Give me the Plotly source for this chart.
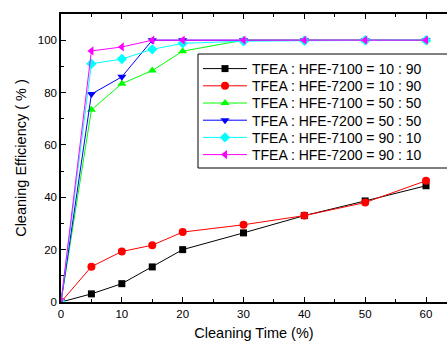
import plotly.graph_objects as go

time = [0, 5, 10, 15, 20, 30, 40, 50, 60]
names = [
    "TFEA : HFE-7100 = 10 : 90",
    "TFEA : HFE-7200 = 10 : 90",
    "TFEA : HFE-7100 = 50 : 50",
    "TFEA : HFE-7200 = 50 : 50",
    "TFEA : HFE-7100 = 90 : 10",
    "TFEA : HFE-7200 = 90 : 10",
]
s_7100_10 = [0, 3.1, 7.0, 13.4, 20.0, 26.4, 33.0, 38.6, 44.4]
s_7200_10 = [0, 13.5, 19.3, 21.7, 26.7, 29.5, 33.0, 38.0, 46.3]
s_7100_50 = [0, 73.4, 83.4, 88.4, 95.8, 100, 100, 100, 100]
s_7200_50 = [0, 79.4, 86.0, 100, 100, 100, 100, 100, 100]
s_7100_90 = [0, 91.0, 92.8, 96.5, 98.8, 99.6, 99.8, 100, 100]
s_7200_90 = [0, 95.9, 97.4, 100, 100, 100, 100, 100, 100]

series = [s_7100_10, s_7200_10, s_7100_50, s_7200_50, s_7100_90, s_7200_90]
colors = ["#000000", "#FF0000", "#00FF00", "#0000FF", "#00FFFF", "#FF00FF"]
symbols = ["square", "circle", "triangle-up", "triangle-down", "diamond", "triangle-left"]
sizes = [7, 8, 8, 8, 8, 8]

FONT = "Liberation Sans, Arial, sans-serif"
L, T, B = 61, 14, 39
W, H = 447, 341
PW, PH = W - L, H - T - B

fig = go.Figure()
legend_layouts = {}
for i, (n, s, c, m, sz) in enumerate(zip(names, series, colors, symbols, sizes)):
    lg = "legend" if i == 0 else f"legend{i + 1}"
    fig.add_trace(go.Scatter(
        x=time, y=s, name=n, mode="lines+markers",
        line=dict(color=c, width=1),
        marker=dict(symbol=m, color=c, size=sz, line=dict(width=0)),
        legend=lg,
    ))
    row_y = 69 + 17.2 * i
    legend_layouts[lg] = dict(
        x=(198 - L) / PW, y=(H - B - row_y) / PH, xanchor="left", yanchor="middle",
        borderwidth=0, bgcolor="rgba(0,0,0,0)",
        font=dict(size=14, family=FONT, color="#000000"),
        itemwidth=44,
    )

# legend frame
fig.add_shape(
    type="rect", xref="paper", yref="paper", layer="above",
    x0=(198 - L) / PW, x1=1.2, y0=(H - B - 168) / PH, y1=(H - B - 54) / PH,
    line=dict(color="#000000", width=1), fillcolor="white",
)

axis_font = dict(family=FONT, size=11.5, color="#000000")
fig.update_layout(
    width=W, height=H,
    margin=dict(l=L, r=0, t=T, b=B),
    paper_bgcolor="white", plot_bgcolor="white",
    font=dict(family=FONT, color="#000000"),
    showlegend=True,
    **legend_layouts,
    xaxis=dict(
        range=[0, 63.45], tickmode="array", tickvals=[0, 10, 20, 30, 40, 50, 60],
        ticks="inside", ticklen=5, tickwidth=1, tickcolor="#000000",
        minor=dict(tickvals=[5, 15, 25, 35, 45, 55], ticks="inside", ticklen=3, tickcolor="#000000"),
        showline=True, linecolor="#000000", linewidth=1.5, mirror="allticks",
        showgrid=False, zeroline=False, tickfont=axis_font, automargin=False,
        title=dict(text="Cleaning Time (%)", font=dict(size=14.5), standoff=14),
    ),
    yaxis=dict(
        range=[0, 110], tickmode="array", tickvals=[0, 20, 40, 60, 80, 100],
        ticks="inside", ticklen=5, tickwidth=1, tickcolor="#000000",
        minor=dict(tickvals=[10, 30, 50, 70, 90, 110], ticks="inside", ticklen=3, tickcolor="#000000"),
        showline=True, linecolor="#000000", linewidth=1.5, mirror=False,
        showgrid=False, zeroline=False, tickfont=axis_font,
        title=dict(text="Cleaning Efficiency ( % )", font=dict(size=14.5), standoff=8),
    ),
)
fig.write_html("out.html")
